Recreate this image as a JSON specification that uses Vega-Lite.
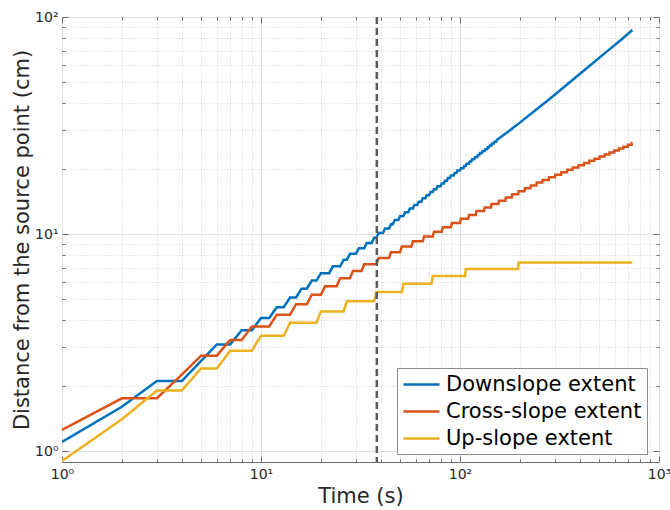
{
  "$schema": "https://vega.github.io/schema/vega-lite/v6.json",
  "width": 597,
  "height": 445,
  "autosize": {"type": "none"},
  "padding": {"left": 62, "top": 17, "right": 11, "bottom": 48},
  "background": "white",
  "config": {
    "font": "DejaVu Sans",
    "view": {"stroke": "#6b6b6b", "strokeWidth": 1},
    "axis": {
      "domain": false,
      "labelFont": "DejaVu Sans",
      "labelFontSize": 14,
      "labelColor": "#262626",
      "titleFont": "DejaVu Sans",
      "titleFontSize": 21,
      "titleFontWeight": "normal",
      "titleColor": "#262626",
      "titleLimit": 1000,
      "tickColor": "#6b6b6b",
      "tickWidth": 1,
      "labelOverlap": false,
      "labelFlush": false
    }
  },
  "resolve": {"axis": {"x": "independent", "y": "independent"}},
  "datasets": {
    "extent": [
      {"t": 1, "d": 1.1, "s": "Downslope extent"},
      {"t": 2, "d": 1.6, "s": "Downslope extent"},
      {"t": 3, "d": 2.1, "s": "Downslope extent"},
      {"t": 4, "d": 2.1, "s": "Downslope extent"},
      {"t": 5, "d": 2.6, "s": "Downslope extent"},
      {"t": 6, "d": 3.1, "s": "Downslope extent"},
      {"t": 7, "d": 3.1, "s": "Downslope extent"},
      {"t": 8, "d": 3.6, "s": "Downslope extent"},
      {"t": 9, "d": 3.6, "s": "Downslope extent"},
      {"t": 10, "d": 4.1, "s": "Downslope extent"},
      {"t": 11, "d": 4.1, "s": "Downslope extent"},
      {"t": 12, "d": 4.6, "s": "Downslope extent"},
      {"t": 13, "d": 4.6, "s": "Downslope extent"},
      {"t": 14, "d": 5.1, "s": "Downslope extent"},
      {"t": 15, "d": 5.1, "s": "Downslope extent"},
      {"t": 16, "d": 5.6, "s": "Downslope extent"},
      {"t": 17, "d": 5.6, "s": "Downslope extent"},
      {"t": 18, "d": 6.1, "s": "Downslope extent"},
      {"t": 19, "d": 6.1, "s": "Downslope extent"},
      {"t": 20, "d": 6.6, "s": "Downslope extent"},
      {"t": 22, "d": 6.6, "s": "Downslope extent"},
      {"t": 23, "d": 7.1, "s": "Downslope extent"},
      {"t": 25, "d": 7.1, "s": "Downslope extent"},
      {"t": 26, "d": 7.6, "s": "Downslope extent"},
      {"t": 27, "d": 7.6, "s": "Downslope extent"},
      {"t": 28, "d": 8.1, "s": "Downslope extent"},
      {"t": 30, "d": 8.1, "s": "Downslope extent"},
      {"t": 31, "d": 8.6, "s": "Downslope extent"},
      {"t": 33, "d": 8.6, "s": "Downslope extent"},
      {"t": 34, "d": 9.1, "s": "Downslope extent"},
      {"t": 36, "d": 9.1, "s": "Downslope extent"},
      {"t": 37, "d": 9.6, "s": "Downslope extent"},
      {"t": 38, "d": 9.6, "s": "Downslope extent"},
      {"t": 39, "d": 10.1, "s": "Downslope extent"},
      {"t": 41, "d": 10.1, "s": "Downslope extent"},
      {"t": 42, "d": 10.6, "s": "Downslope extent"},
      {"t": 44, "d": 10.6, "s": "Downslope extent"},
      {"t": 45, "d": 11.1, "s": "Downslope extent"},
      {"t": 46, "d": 11.1, "s": "Downslope extent"},
      {"t": 47, "d": 11.6, "s": "Downslope extent"},
      {"t": 49, "d": 11.6, "s": "Downslope extent"},
      {"t": 50, "d": 12.1, "s": "Downslope extent"},
      {"t": 52, "d": 12.1, "s": "Downslope extent"},
      {"t": 53, "d": 12.6, "s": "Downslope extent"},
      {"t": 55, "d": 12.6, "s": "Downslope extent"},
      {"t": 56, "d": 13.1, "s": "Downslope extent"},
      {"t": 58, "d": 13.1, "s": "Downslope extent"},
      {"t": 59, "d": 13.6, "s": "Downslope extent"},
      {"t": 61, "d": 13.6, "s": "Downslope extent"},
      {"t": 62, "d": 14.1, "s": "Downslope extent"},
      {"t": 64, "d": 14.1, "s": "Downslope extent"},
      {"t": 65, "d": 14.6, "s": "Downslope extent"},
      {"t": 67, "d": 14.6, "s": "Downslope extent"},
      {"t": 68, "d": 15.1, "s": "Downslope extent"},
      {"t": 70, "d": 15.1, "s": "Downslope extent"},
      {"t": 71, "d": 15.6, "s": "Downslope extent"},
      {"t": 73, "d": 15.6, "s": "Downslope extent"},
      {"t": 74, "d": 16.1, "s": "Downslope extent"},
      {"t": 76, "d": 16.1, "s": "Downslope extent"},
      {"t": 77, "d": 16.6, "s": "Downslope extent"},
      {"t": 80, "d": 16.6, "s": "Downslope extent"},
      {"t": 81, "d": 17.1, "s": "Downslope extent"},
      {"t": 83, "d": 17.1, "s": "Downslope extent"},
      {"t": 84, "d": 17.6, "s": "Downslope extent"},
      {"t": 86, "d": 17.6, "s": "Downslope extent"},
      {"t": 87, "d": 18.1, "s": "Downslope extent"},
      {"t": 89, "d": 18.1, "s": "Downslope extent"},
      {"t": 90, "d": 18.6, "s": "Downslope extent"},
      {"t": 93, "d": 18.6, "s": "Downslope extent"},
      {"t": 94, "d": 19.1, "s": "Downslope extent"},
      {"t": 96, "d": 19.1, "s": "Downslope extent"},
      {"t": 97, "d": 19.6, "s": "Downslope extent"},
      {"t": 100, "d": 19.6, "s": "Downslope extent"},
      {"t": 101, "d": 20.1, "s": "Downslope extent"},
      {"t": 104, "d": 20.1, "s": "Downslope extent"},
      {"t": 105, "d": 20.6, "s": "Downslope extent"},
      {"t": 107, "d": 20.6, "s": "Downslope extent"},
      {"t": 108, "d": 21.1, "s": "Downslope extent"},
      {"t": 111, "d": 21.1, "s": "Downslope extent"},
      {"t": 112, "d": 21.6, "s": "Downslope extent"},
      {"t": 114, "d": 21.6, "s": "Downslope extent"},
      {"t": 115, "d": 22.1, "s": "Downslope extent"},
      {"t": 118, "d": 22.1, "s": "Downslope extent"},
      {"t": 119, "d": 22.6, "s": "Downslope extent"},
      {"t": 122, "d": 22.6, "s": "Downslope extent"},
      {"t": 123, "d": 23.1, "s": "Downslope extent"},
      {"t": 125, "d": 23.1, "s": "Downslope extent"},
      {"t": 126, "d": 23.6, "s": "Downslope extent"},
      {"t": 129, "d": 23.6, "s": "Downslope extent"},
      {"t": 130, "d": 24.1, "s": "Downslope extent"},
      {"t": 133, "d": 24.1, "s": "Downslope extent"},
      {"t": 134, "d": 24.6, "s": "Downslope extent"},
      {"t": 137, "d": 24.6, "s": "Downslope extent"},
      {"t": 138, "d": 25.1, "s": "Downslope extent"},
      {"t": 140, "d": 25.1, "s": "Downslope extent"},
      {"t": 141, "d": 25.6, "s": "Downslope extent"},
      {"t": 144, "d": 25.6, "s": "Downslope extent"},
      {"t": 145, "d": 26.1, "s": "Downslope extent"},
      {"t": 148, "d": 26.1, "s": "Downslope extent"},
      {"t": 149, "d": 26.6, "s": "Downslope extent"},
      {"t": 152, "d": 26.6, "s": "Downslope extent"},
      {"t": 153, "d": 27.1, "s": "Downslope extent"},
      {"t": 175, "d": 29.7, "s": "Downslope extent"},
      {"t": 200, "d": 32.6, "s": "Downslope extent"},
      {"t": 250, "d": 38.4, "s": "Downslope extent"},
      {"t": 283, "d": 42.0, "s": "Downslope extent"},
      {"t": 350, "d": 49.4, "s": "Downslope extent"},
      {"t": 450, "d": 59.8, "s": "Downslope extent"},
      {"t": 550, "d": 69.6, "s": "Downslope extent"},
      {"t": 650, "d": 79.0, "s": "Downslope extent"},
      {"t": 735, "d": 87.1, "s": "Downslope extent"},

      {"t": 1, "d": 1.25, "s": "Cross-slope extent"},
      {"t": 2, "d": 1.75, "s": "Cross-slope extent"},
      {"t": 3, "d": 1.75, "s": "Cross-slope extent"},
      {"t": 4, "d": 2.25, "s": "Cross-slope extent"},
      {"t": 5, "d": 2.75, "s": "Cross-slope extent"},
      {"t": 6, "d": 2.75, "s": "Cross-slope extent"},
      {"t": 7, "d": 3.25, "s": "Cross-slope extent"},
      {"t": 8, "d": 3.25, "s": "Cross-slope extent"},
      {"t": 9, "d": 3.75, "s": "Cross-slope extent"},
      {"t": 11, "d": 3.75, "s": "Cross-slope extent"},
      {"t": 12, "d": 4.25, "s": "Cross-slope extent"},
      {"t": 14, "d": 4.25, "s": "Cross-slope extent"},
      {"t": 15, "d": 4.75, "s": "Cross-slope extent"},
      {"t": 17, "d": 4.75, "s": "Cross-slope extent"},
      {"t": 18, "d": 5.25, "s": "Cross-slope extent"},
      {"t": 20, "d": 5.25, "s": "Cross-slope extent"},
      {"t": 21, "d": 5.75, "s": "Cross-slope extent"},
      {"t": 24, "d": 5.75, "s": "Cross-slope extent"},
      {"t": 25, "d": 6.25, "s": "Cross-slope extent"},
      {"t": 28, "d": 6.25, "s": "Cross-slope extent"},
      {"t": 29, "d": 6.75, "s": "Cross-slope extent"},
      {"t": 32, "d": 6.75, "s": "Cross-slope extent"},
      {"t": 33, "d": 7.25, "s": "Cross-slope extent"},
      {"t": 38, "d": 7.25, "s": "Cross-slope extent"},
      {"t": 39, "d": 7.75, "s": "Cross-slope extent"},
      {"t": 44, "d": 7.75, "s": "Cross-slope extent"},
      {"t": 45, "d": 8.25, "s": "Cross-slope extent"},
      {"t": 50, "d": 8.25, "s": "Cross-slope extent"},
      {"t": 51, "d": 8.75, "s": "Cross-slope extent"},
      {"t": 57, "d": 8.75, "s": "Cross-slope extent"},
      {"t": 58, "d": 9.25, "s": "Cross-slope extent"},
      {"t": 65, "d": 9.25, "s": "Cross-slope extent"},
      {"t": 66, "d": 9.75, "s": "Cross-slope extent"},
      {"t": 73, "d": 9.75, "s": "Cross-slope extent"},
      {"t": 74, "d": 10.25, "s": "Cross-slope extent"},
      {"t": 81, "d": 10.25, "s": "Cross-slope extent"},
      {"t": 82, "d": 10.75, "s": "Cross-slope extent"},
      {"t": 90, "d": 10.75, "s": "Cross-slope extent"},
      {"t": 91, "d": 11.25, "s": "Cross-slope extent"},
      {"t": 100, "d": 11.25, "s": "Cross-slope extent"},
      {"t": 101, "d": 11.75, "s": "Cross-slope extent"},
      {"t": 110, "d": 11.75, "s": "Cross-slope extent"},
      {"t": 111, "d": 12.25, "s": "Cross-slope extent"},
      {"t": 120, "d": 12.25, "s": "Cross-slope extent"},
      {"t": 121, "d": 12.75, "s": "Cross-slope extent"},
      {"t": 132, "d": 12.75, "s": "Cross-slope extent"},
      {"t": 133, "d": 13.25, "s": "Cross-slope extent"},
      {"t": 143, "d": 13.25, "s": "Cross-slope extent"},
      {"t": 144, "d": 13.75, "s": "Cross-slope extent"},
      {"t": 156, "d": 13.75, "s": "Cross-slope extent"},
      {"t": 157, "d": 14.25, "s": "Cross-slope extent"},
      {"t": 169, "d": 14.25, "s": "Cross-slope extent"},
      {"t": 170, "d": 14.75, "s": "Cross-slope extent"},
      {"t": 182, "d": 14.75, "s": "Cross-slope extent"},
      {"t": 183, "d": 15.25, "s": "Cross-slope extent"},
      {"t": 196, "d": 15.25, "s": "Cross-slope extent"},
      {"t": 197, "d": 15.75, "s": "Cross-slope extent"},
      {"t": 211, "d": 15.75, "s": "Cross-slope extent"},
      {"t": 212, "d": 16.25, "s": "Cross-slope extent"},
      {"t": 226, "d": 16.25, "s": "Cross-slope extent"},
      {"t": 227, "d": 16.75, "s": "Cross-slope extent"},
      {"t": 242, "d": 16.75, "s": "Cross-slope extent"},
      {"t": 243, "d": 17.25, "s": "Cross-slope extent"},
      {"t": 259, "d": 17.25, "s": "Cross-slope extent"},
      {"t": 260, "d": 17.75, "s": "Cross-slope extent"},
      {"t": 279, "d": 17.75, "s": "Cross-slope extent"},
      {"t": 280, "d": 18.25, "s": "Cross-slope extent"},
      {"t": 300, "d": 18.25, "s": "Cross-slope extent"},
      {"t": 301, "d": 18.75, "s": "Cross-slope extent"},
      {"t": 322, "d": 18.75, "s": "Cross-slope extent"},
      {"t": 323, "d": 19.25, "s": "Cross-slope extent"},
      {"t": 345, "d": 19.25, "s": "Cross-slope extent"},
      {"t": 346, "d": 19.75, "s": "Cross-slope extent"},
      {"t": 368, "d": 19.75, "s": "Cross-slope extent"},
      {"t": 369, "d": 20.25, "s": "Cross-slope extent"},
      {"t": 393, "d": 20.25, "s": "Cross-slope extent"},
      {"t": 394, "d": 20.75, "s": "Cross-slope extent"},
      {"t": 419, "d": 20.75, "s": "Cross-slope extent"},
      {"t": 420, "d": 21.25, "s": "Cross-slope extent"},
      {"t": 446, "d": 21.25, "s": "Cross-slope extent"},
      {"t": 447, "d": 21.75, "s": "Cross-slope extent"},
      {"t": 473, "d": 21.75, "s": "Cross-slope extent"},
      {"t": 474, "d": 22.25, "s": "Cross-slope extent"},
      {"t": 502, "d": 22.25, "s": "Cross-slope extent"},
      {"t": 503, "d": 22.75, "s": "Cross-slope extent"},
      {"t": 532, "d": 22.75, "s": "Cross-slope extent"},
      {"t": 533, "d": 23.25, "s": "Cross-slope extent"},
      {"t": 563, "d": 23.25, "s": "Cross-slope extent"},
      {"t": 564, "d": 23.75, "s": "Cross-slope extent"},
      {"t": 595, "d": 23.75, "s": "Cross-slope extent"},
      {"t": 596, "d": 24.25, "s": "Cross-slope extent"},
      {"t": 628, "d": 24.25, "s": "Cross-slope extent"},
      {"t": 629, "d": 24.75, "s": "Cross-slope extent"},
      {"t": 662, "d": 24.75, "s": "Cross-slope extent"},
      {"t": 663, "d": 25.25, "s": "Cross-slope extent"},
      {"t": 698, "d": 25.25, "s": "Cross-slope extent"},
      {"t": 699, "d": 25.75, "s": "Cross-slope extent"},
      {"t": 729, "d": 25.75, "s": "Cross-slope extent"},
      {"t": 730, "d": 26.25, "s": "Cross-slope extent"},
      {"t": 735, "d": 26.25, "s": "Cross-slope extent"},

      {"t": 1, "d": 0.9, "s": "Up-slope extent"},
      {"t": 2, "d": 1.4, "s": "Up-slope extent"},
      {"t": 3, "d": 1.9, "s": "Up-slope extent"},
      {"t": 4, "d": 1.9, "s": "Up-slope extent"},
      {"t": 5, "d": 2.4, "s": "Up-slope extent"},
      {"t": 6, "d": 2.4, "s": "Up-slope extent"},
      {"t": 7, "d": 2.9, "s": "Up-slope extent"},
      {"t": 9, "d": 2.9, "s": "Up-slope extent"},
      {"t": 10, "d": 3.4, "s": "Up-slope extent"},
      {"t": 13, "d": 3.4, "s": "Up-slope extent"},
      {"t": 14, "d": 3.9, "s": "Up-slope extent"},
      {"t": 19, "d": 3.9, "s": "Up-slope extent"},
      {"t": 20, "d": 4.4, "s": "Up-slope extent"},
      {"t": 26, "d": 4.4, "s": "Up-slope extent"},
      {"t": 27, "d": 4.9, "s": "Up-slope extent"},
      {"t": 37, "d": 4.9, "s": "Up-slope extent"},
      {"t": 38, "d": 5.4, "s": "Up-slope extent"},
      {"t": 51, "d": 5.4, "s": "Up-slope extent"},
      {"t": 52, "d": 5.9, "s": "Up-slope extent"},
      {"t": 72, "d": 5.9, "s": "Up-slope extent"},
      {"t": 73, "d": 6.4, "s": "Up-slope extent"},
      {"t": 106, "d": 6.4, "s": "Up-slope extent"},
      {"t": 107, "d": 6.9, "s": "Up-slope extent"},
      {"t": 196, "d": 6.9, "s": "Up-slope extent"},
      {"t": 197, "d": 7.4, "s": "Up-slope extent"},
      {"t": 735, "d": 7.4, "s": "Up-slope extent"}
    ],
    "marker": [{"t": 38.2}]
  },
  "layer": [
    {
      "data": {"name": "extent"},
      "mark": {"type": "line", "strokeWidth": 2.5, "clip": true},
      "encoding": {
        "x": {
          "field": "t",
          "type": "quantitative",
          "scale": {"type": "log", "domain": [1, 1000], "nice": false},
          "axis": {
            "orient": "bottom",
            "title": "Time (s)",
            "values": [1, 2, 3, 4, 5, 6, 7, 8, 9, 10, 20, 30, 40, 50, 60, 70, 80, 90, 100, 200, 300, 400, 500, 600, 700, 800, 900, 1000],
            "grid": true,
            "gridColor": {"condition": {"test": "abs(log(datum.value)/LN10 - round(log(datum.value)/LN10)) < 0.001", "value": "#e0e0e0"}, "value": "#cfcfcf"},
            "gridDash": {"condition": {"test": "abs(log(datum.value)/LN10 - round(log(datum.value)/LN10)) < 0.001", "value": []}, "value": [1, 2]},
            "tickSize": {"condition": {"test": "abs(log(datum.value)/LN10 - round(log(datum.value)/LN10)) < 0.001", "value": -6}, "value": -3},
            "labelExpr": "abs(log(datum.value)/LN10 - round(log(datum.value)/LN10)) < 0.001 ? '10' + (round(log(datum.value)/LN10) == 0 ? '⁰' : round(log(datum.value)/LN10) == 1 ? '¹' : round(log(datum.value)/LN10) == 2 ? '²' : '³') : ''",
            "labelPadding": 11,
            "titlePadding": 1
          }
        },
        "y": {
          "field": "d",
          "type": "quantitative",
          "scale": {"type": "log", "domain": [0.89, 100], "nice": false},
          "axis": {
            "orient": "left",
            "title": "Distance from the source point (cm)",
            "values": [1, 2, 3, 4, 5, 6, 7, 8, 9, 10, 20, 30, 40, 50, 60, 70, 80, 90, 100],
            "grid": true,
            "gridColor": {"condition": {"test": "abs(log(datum.value)/LN10 - round(log(datum.value)/LN10)) < 0.001", "value": "#e0e0e0"}, "value": "#cfcfcf"},
            "gridDash": {"condition": {"test": "abs(log(datum.value)/LN10 - round(log(datum.value)/LN10)) < 0.001", "value": []}, "value": [1, 2]},
            "tickSize": {"condition": {"test": "abs(log(datum.value)/LN10 - round(log(datum.value)/LN10)) < 0.001", "value": -6}, "value": -3},
            "labelExpr": "abs(log(datum.value)/LN10 - round(log(datum.value)/LN10)) < 0.001 ? '10' + (round(log(datum.value)/LN10) == 0 ? '⁰' : round(log(datum.value)/LN10) == 1 ? '¹' : '²') : ''",
            "labelPadding": 10,
            "titlePadding": 2
          }
        },
        "color": {
          "field": "s",
          "type": "nominal",
          "scale": {
            "domain": ["Downslope extent", "Cross-slope extent", "Up-slope extent"],
            "range": ["#0072BD", "#D95319", "#EDB120"]
          },
          "legend": {
            "orient": "none",
            "legendX": 335,
            "legendY": 351,
            "title": null,
            "symbolType": "M-1,0H2.6",
            "symbolSize": 400,
            "symbolStrokeWidth": 2.5,
            "labelFont": "DejaVu Sans",
            "labelFontSize": 21,
            "labelColor": "#000000",
            "labelLimit": 400,
            "labelOffset": 21,
            "strokeColor": "#8c8c8c",
            "fillColor": "#ffffff",
            "padding": 5,
            "rowPadding": 5
          }
        }
      }
    },
    {
      "data": {"name": "marker"},
      "mark": {"type": "rule", "color": "#5a5a5a", "strokeWidth": 2.5, "strokeDash": [7, 4]},
      "encoding": {
        "x": {"field": "t", "type": "quantitative", "scale": {"type": "log", "domain": [1, 1000], "nice": false}, "axis": null}
      }
    },
    {
      "data": {"name": "extent"},
      "mark": {"type": "point", "opacity": 0},
      "encoding": {
        "x": {
          "field": "t",
          "type": "quantitative",
          "scale": {"type": "log", "domain": [1, 1000], "nice": false},
          "axis": {
            "orient": "top",
            "title": null,
            "labels": false,
            "grid": false,
            "values": [1, 2, 3, 4, 5, 6, 7, 8, 9, 10, 20, 30, 40, 50, 60, 70, 80, 90, 100, 200, 300, 400, 500, 600, 700, 800, 900, 1000],
            "tickSize": {"condition": {"test": "abs(log(datum.value)/LN10 - round(log(datum.value)/LN10)) < 0.001", "value": -6}, "value": -3}
          }
        },
        "y": {
          "field": "d",
          "type": "quantitative",
          "scale": {"type": "log", "domain": [0.89, 100], "nice": false},
          "axis": {
            "orient": "right",
            "title": null,
            "labels": false,
            "grid": false,
            "values": [1, 2, 3, 4, 5, 6, 7, 8, 9, 10, 20, 30, 40, 50, 60, 70, 80, 90, 100],
            "tickSize": {"condition": {"test": "abs(log(datum.value)/LN10 - round(log(datum.value)/LN10)) < 0.001", "value": -6}, "value": -3}
          }
        }
      }
    }
  ]
}
